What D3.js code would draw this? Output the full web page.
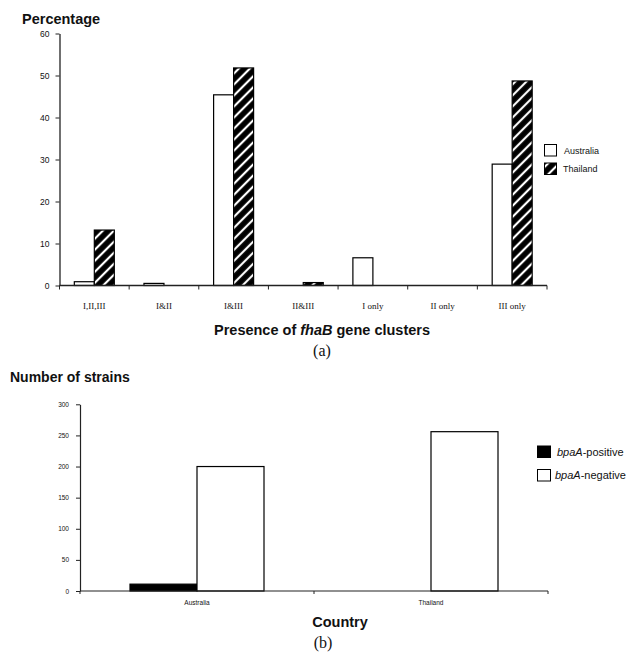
<!DOCTYPE html>
<html><head><meta charset="utf-8">
<script src="https://cdn.jsdelivr.net/npm/d3@7"></script>
<style>
html,body{margin:0;padding:0;background:#fff;}
svg{display:block;}
text{font-family:"Liberation Sans",Arial,sans-serif;fill:#111;}
</style></head>
<body>
<svg id="c" width="626" height="660"></svg>
<script>
// ---- Chart (a) data ----
const clusterCategories = ["I,II,III","I&II","I&III","II&III","I only","II only","III only"];
const clusterSeries = ["Australia","Thailand"];
const australiaPct = [0.9, 0.5, 45.4, 0, 6.6, 0, 28.9];
const thailandPct  = [13.2, 0, 51.8, 0.7, 0, 0, 48.7];
const pctTicks = [0,10,20,30,40,50,60];

// ---- Chart (b) data ----
const countries = ["Australia","Thailand"];
const bpaSeries = ["bpaA-positive","bpaA-negative"];
const bpaPositive = [11, 0];
const bpaNegative = [200, 256];
const strainTicks = [0,50,100,150,200,250,300];

const svg = d3.select("#c");
const defs = svg.append("defs");
const pat = defs.append("pattern").attr("id","hatch")
  .attr("patternUnits","userSpaceOnUse").attr("width",7.8).attr("height",7.8)
  .attr("patternTransform","rotate(45)");
pat.append("rect").attr("width",7.8).attr("height",7.8).attr("fill","#000");
pat.append("line").attr("x1",3.9).attr("y1",0).attr("x2",3.9).attr("y2",7.8)
  .attr("stroke","#fff").attr("stroke-width",2.2);

// ================= Chart (a) =================
{
  const y = d3.scaleLinear().domain([0,60]).range([285.5,33.5]);
  const x0 = d3.scaleBand().domain(clusterCategories).range([59.5,547]);
  const x1 = d3.scaleBand().domain(clusterSeries).range([0,40]);
  const off = (x0.bandwidth()-40)/2;
  const g = svg.append("g");

  const rows = clusterCategories.map((c,i)=>({cat:c, vals:[australiaPct[i], thailandPct[i]]}));
  const grp = g.selectAll("g.grp").data(rows).join("g")
    .attr("transform",d=>`translate(${x0(d.cat)+off},0)`);
  grp.selectAll("rect").data(d=>d.vals.map((v,j)=>({s:clusterSeries[j],v})))
    .join("rect")
    .filter(d=>d.v>0)
    .attr("x",d=>x1(d.s)).attr("width",x1.bandwidth())
    .attr("y",d=>y(d.v)).attr("height",d=>y(0)-y(d.v))
    .attr("fill",d=>d.s==="Australia"?"#fff":"url(#hatch)")
    .attr("stroke","#000").attr("stroke-width",1.2);

  // y axis
  const ya = g.append("g").attr("transform","translate(59.5,0)")
    .call(d3.axisLeft(y).tickValues(pctTicks).tickSize(4).tickPadding(6).tickSizeOuter(0));
  ya.select(".domain").attr("stroke","#222").attr("stroke-width",1.3);
  ya.selectAll(".tick line").attr("stroke","#222");
  ya.selectAll(".tick text").style("font-family","Liberation Sans, Arial").style("font-size","8.5px").attr("fill","#222");

  // x axis (ticks at band boundaries)
  g.append("line").attr("x1",59.5).attr("x2",547).attr("y1",y(0)).attr("y2",y(0))
    .attr("stroke","#222").attr("stroke-width",1.3);
  const bounds = clusterCategories.map(c=>x0(c)).concat([x0.range()[1]]);
  g.selectAll("line.xt").data(bounds).join("line").attr("class","xt")
    .attr("x1",d=>d).attr("x2",d=>d).attr("y1",y(0)).attr("y2",y(0)+4)
    .attr("stroke","#222");
  g.selectAll("text.xl").data(clusterCategories).join("text").attr("class","xl")
    .attr("x",d=>x0(d)+x0.bandwidth()/2).attr("y",309)
    .attr("text-anchor","middle")
    .style("font-family","Liberation Serif, Times New Roman, serif").style("font-size","9px")
    .text(d=>d);

  g.append("text").attr("x",22).attr("y",24).style("font-weight","bold").style("font-size","14.5px").text("Percentage");
  const xt = g.append("text").attr("x",322).attr("y",335).attr("text-anchor","middle")
    .style("font-weight","bold").style("font-size","14.5px");
  xt.append("tspan").text("Presence of ");
  xt.append("tspan").style("font-style","italic").text("fhaB");
  xt.append("tspan").text(" gene clusters");
  g.append("text").attr("x",322).attr("y",356).attr("text-anchor","middle")
    .style("font-family","Liberation Serif, Times New Roman, serif").style("font-size","16px").text("(a)");

  // legend
  const lg = g.append("g");
  clusterSeries.forEach((s,i)=>{
    lg.append("rect").attr("x",544.5).attr("y",144.5+i*18.5).attr("width",12).attr("height",11.5)
      .attr("fill",s==="Australia"?"#fff":"url(#hatch)").attr("stroke","#000").attr("stroke-width",1);
    lg.append("text").attr("x",i===0?564:563).attr("y",154+i*18).style("font-size","9px").text(s);
  });
}

// ================= Chart (b) =================
{
  const y = d3.scaleLinear().domain([0,300]).range([591,404.3]);
  const x0 = d3.scaleBand().domain(countries).range([80,548]);
  const x1 = d3.scaleBand().domain(bpaSeries).range([0,134]);
  const off = (x0.bandwidth()-134)/2;
  const g = svg.append("g");

  const rows = countries.map((c,i)=>({cat:c, vals:[bpaPositive[i], bpaNegative[i]]}));
  const grp = g.selectAll("g.grp").data(rows).join("g")
    .attr("transform",d=>`translate(${x0(d.cat)+off},0)`);
  grp.selectAll("rect").data(d=>d.vals.map((v,j)=>({s:bpaSeries[j],v})))
    .join("rect")
    .filter(d=>d.v>0)
    .attr("x",d=>x1(d.s)).attr("width",x1.bandwidth())
    .attr("y",d=>y(d.v)).attr("height",d=>y(0)-y(d.v))
    .attr("fill",d=>d.s==="bpaA-positive"?"#000":"#fff")
    .attr("stroke","#000").attr("stroke-width",1.2);

  const ya = g.append("g").attr("transform","translate(80,0)")
    .call(d3.axisLeft(y).tickValues(strainTicks).tickSize(4).tickPadding(7).tickSizeOuter(0));
  ya.select(".domain").attr("stroke","#222").attr("stroke-width",1.2);
  ya.selectAll(".tick line").attr("stroke","#222");
  ya.selectAll(".tick text").style("font-family","Liberation Sans, Arial").style("font-size","6.5px").attr("fill","#333");

  g.append("line").attr("x1",80).attr("x2",548).attr("y1",y(0)).attr("y2",y(0))
    .attr("stroke","#222").attr("stroke-width",1.2);
  const bounds = countries.map(c=>x0(c)).concat([x0.range()[1]]);
  g.selectAll("line.xt").data(bounds).join("line").attr("class","xt")
    .attr("x1",d=>d).attr("x2",d=>d).attr("y1",y(0)).attr("y2",y(0)+3)
    .attr("stroke","#222");
  g.selectAll("text.xl").data(countries).join("text").attr("class","xl")
    .attr("x",d=>x0(d)+x0.bandwidth()/2).attr("y",605)
    .attr("text-anchor","middle").style("font-size","6.5px").attr("fill","#333")
    .text(d=>d);

  g.append("text").attr("x",10).attr("y",382).style("font-weight","bold").style("font-size","14px").text("Number of strains");
  g.append("text").attr("x",340).attr("y",627).attr("text-anchor","middle")
    .style("font-weight","bold").style("font-size","14.5px").text("Country");
  g.append("text").attr("x",323).attr("y",648).attr("text-anchor","middle")
    .style("font-family","Liberation Serif, Times New Roman, serif").style("font-size","16px").text("(b)");

  bpaSeries.forEach((s,i)=>{
    g.append("rect").attr("x",537.5).attr("y",446+i*23.5).attr("width",13).attr("height",11.5)
      .attr("fill",i===0?"#000":"#fff").attr("stroke","#000").attr("stroke-width",1);
    const t = g.append("text").attr("x",i===0?557:555).attr("y",455.5+i*23.5).style("font-size","11px");
    t.append("tspan").style("font-style","italic").text("bpaA");
    t.append("tspan").text(i===0?"-positive":"-negative");
  });
}
</script>
</body></html>
